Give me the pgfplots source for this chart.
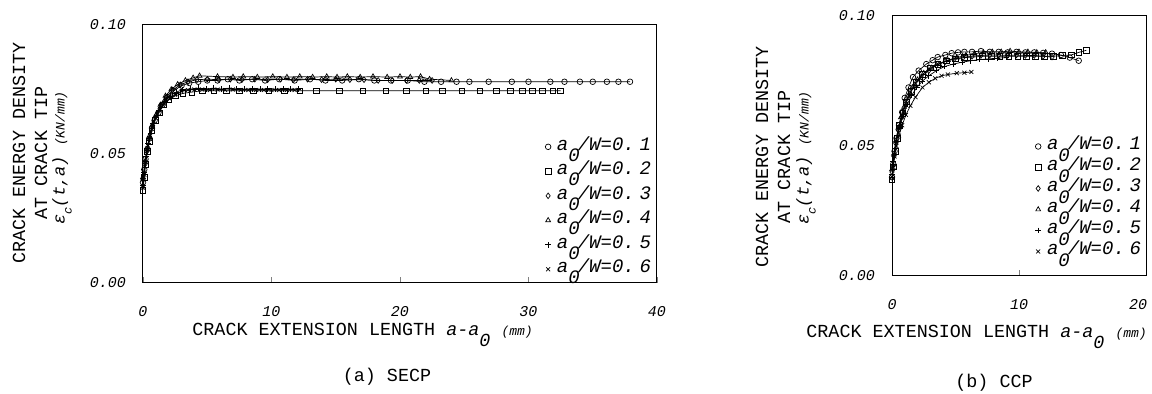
\documentclass[border=0pt]{standalone}
\usepackage{pgfplots}
\pgfplotsset{compat=1.18}
\usepackage{fontspec}
\setmainfont{Liberation Mono}
\newcommand{\lab}{\fontsize{9.2}{11}\selectfont}
\newcommand{\lgd}[1]{\hspace{2.5pt}a\raisebox{-1.1ex}{0}\kern-0.1em/W=0.\hspace{0.25em}#1}
\newcommand{\xlab}{\lab CRACK EXTENSION LENGTH \textit{a-a}\raisebox{-1.1ex}{\textit{0}}\ {\fontsize{6.5}{7}\selectfont\textit{(mm)}}}
\newcommand{\elab}{\fontsize{8.5}{10}\selectfont\itshape ε\raisebox{-0.8ex}{\fontsize{6}{6}\selectfont c}(t,a) {\fontsize{6.5}{7}\selectfont(KN/mm)}}
\pgfplotsset{
  panel/.style={
    scale only axis, anchor=south west, clip=false,
    axis line style={line width=0.5pt},
    tick align=inside, xtick pos=bottom, ytick pos=left,
    major tick length=3pt,
    y tick style={draw=none},
    ymin=0, ymax=0.1, xmin=0, ytick={0,0.05,0.1},
    scaled y ticks=false,
    y tick label style={/pgf/number format/fixed, /pgf/number format/fixed zerofill, /pgf/number format/precision=2},
    /pgf/number format/assume math mode=true,
    tick label style={font=\fontsize{7.5}{8}\selectfont\itshape},
    yticklabel style={xshift=-5pt},
    xticklabel style={yshift=-8pt},
    every axis plot/.append style={black, line width=0.35pt, mark size=1.4pt, mark options={solid, line width=0.35pt}},
    legend image code/.code={\draw[##1,only marks] plot coordinates {(0pt,0pt)};},
    legend style={draw=none, fill=none, anchor=north west, inner sep=0pt,
      font=\fontsize{9.5}{10}\selectfont\itshape,
      nodes={inner sep=0.5pt, text height=6.5pt, text depth=3pt},
      cells={anchor=west}},
  }
}
\begin{document}
\begin{tikzpicture}
\useasboundingbox (0pt,0pt) rectangle (576pt,197pt);
% ---------------- (a) SECP ----------------
\begin{axis}[panel, at={(71.5pt,55.5pt)}, width=257pt, height=129pt,
  xmax=40, xtick={0,10,20,30,40},
  legend style={at={(rel axis cs:0.782,0.57)}, row sep=1.75pt}]
\addplot[mark=o] coordinates {(0,0.039)(0.1,0.044)(0.2,0.048)(0.35,0.052)(0.5,0.056)(0.7,0.060)(0.9,0.063)(1.2,0.066)(1.5,0.069)(1.9,0.072)(2.4,0.0745)(3.0,0.0765)(3.6,0.0775)(4.3,0.078)(5.0,0.0785)(5.8,0.0785)(6.6,0.079)(7.5,0.0785)(8.5,0.079)(9.5,0.0785)(10.6,0.079)(11.8,0.0785)(13,0.079)(14.2,0.0785)(15.5,0.0785)(16.8,0.079)(18,0.0785)(19.3,0.0785)(20.6,0.0785)(21.9,0.078)(23.2,0.078)(24.4,0.078)(25.4,0.078)(26.9,0.078)(28.7,0.078)(30,0.078)(31.7,0.078)(32.8,0.078)(34,0.078)(35,0.078)(36.1,0.078)(37,0.078)(37.9,0.078)};
\addlegendentry{\lgd{1}}
\addplot[mark=square] coordinates {(0,0.036)(0.1,0.041)(0.2,0.046)(0.35,0.051)(0.5,0.055)(0.7,0.059)(0.95,0.063)(1.25,0.066)(1.6,0.069)(2.0,0.071)(2.5,0.0725)(3.1,0.0735)(3.8,0.074)(4.6,0.0745)(5.5,0.0745)(6.5,0.0745)(7.5,0.0745)(8.6,0.0745)(9.8,0.0745)(11,0.0745)(12.2,0.0745)(13.5,0.0745)(15.3,0.0745)(17.1,0.0745)(18.9,0.0745)(20.5,0.0745)(22,0.0745)(23.3,0.0745)(24.8,0.0745)(26.2,0.0745)(27.5,0.0745)(28.6,0.0745)(29.5,0.0745)(30.3,0.0745)(31.1,0.0745)(31.9,0.0745)(32.5,0.0745)};
\addlegendentry{\lgd{2}}
\addplot[mark=diamond] coordinates {(0,0.040)(0.15,0.046)(0.3,0.051)(0.5,0.056)(0.75,0.061)(1.05,0.065)(1.4,0.069)(1.8,0.072)(2.3,0.0748)(2.9,0.0768)(3.5,0.078)(4.2,0.0788)(5.0,0.079)(5.9,0.0788)(6.8,0.079)(7.7,0.0788)(8.7,0.079)(9.7,0.0788)(10.7,0.079)(11.7,0.0788)(12.8,0.079)(13.9,0.0788)(15,0.079)(16.1,0.0788)(17.2,0.0788)(18.3,0.0785)(19.4,0.0785)(20.5,0.0785)(21.5,0.0785)(22.5,0.0785)};
\addlegendentry{\lgd{3}}
\addplot[mark=triangle] coordinates {(0,0.041)(0.15,0.047)(0.3,0.052)(0.5,0.057)(0.7,0.061)(1.0,0.065)(1.35,0.069)(1.75,0.0725)(2.2,0.075)(2.7,0.077)(3.3,0.0785)(3.9,0.0795)(4.4,0.0803)(5.8,0.080)(7.0,0.0798)(7.8,0.080)(8.9,0.0798)(10.1,0.080)(11.2,0.0798)(12.2,0.080)(13.2,0.0798)(14.3,0.080)(15.1,0.0798)(15.9,0.080)(16.9,0.0798)(17.9,0.080)(19,0.0798)(20,0.080)(20.8,0.0798)(21.6,0.080)(22.3,0.079)(24,0.0785)};
\addlegendentry{\lgd{4}}
\addplot[mark=+] coordinates {(0,0.038)(0.1,0.043)(0.25,0.049)(0.4,0.054)(0.6,0.058)(0.8,0.062)(1.05,0.065)(1.35,0.068)(1.7,0.0705)(2.1,0.0725)(2.6,0.074)(3.1,0.075)(3.7,0.0752)(4.3,0.0755)(4.9,0.0752)(5.5,0.0755)(6.1,0.0752)(6.7,0.0755)(7.3,0.0752)(7.9,0.0752)(8.5,0.0752)(9.1,0.0752)(9.7,0.0752)(10.3,0.0752)(10.9,0.0752)(11.5,0.0752)(12.1,0.0752)};
\addlegendentry{\lgd{5}}
\addplot[mark=x] coordinates {(0,0.037)(0.1,0.042)(0.2,0.047)(0.35,0.052)(0.55,0.057)(0.75,0.061)(1.0,0.064)(1.3,0.067)(1.65,0.0695)(2.05,0.0715)(2.5,0.073)(3.0,0.0742)(3.5,0.0748)(4.0,0.075)(4.6,0.075)(5.2,0.0748)(5.8,0.075)(6.4,0.0748)(7.0,0.075)(7.6,0.0748)(8.2,0.0748)(8.8,0.0748)(9.4,0.0748)(10,0.0748)(10.6,0.0748)(11.2,0.0748)(11.8,0.0748)};
\addlegendentry{\lgd{6}}
\end{axis}
% ---------------- (b) CCP ----------------
\begin{axis}[panel, at={(446pt,59pt)}, width=127pt, height=130pt,
  xmax=20, xtick={0,10,20}, xticklabels={0,10,{\makebox[9pt][c]{\hspace*{-8pt}20}}},
  legend style={at={(rel axis cs:0.563,0.54)}, row sep=0pt}]
\addplot[mark=o] coordinates {(0,0.038)(0.1,0.043)(0.2,0.048)(0.35,0.053)(0.55,0.058)(0.8,0.063)(1.0,0.0685)(1.3,0.0725)(1.65,0.0765)(2.1,0.079)(2.7,0.0815)(3.2,0.083)(3.6,0.0842)(4.2,0.085)(4.7,0.0857)(5.2,0.086)(5.7,0.0862)(6.3,0.0862)(7.0,0.0865)(7.7,0.0862)(8.4,0.0862)(9.1,0.086)(9.8,0.0862)(10.5,0.086)(11.2,0.086)(11.9,0.0858)(12.6,0.0855)(13.3,0.085)(14.0,0.084)(14.7,0.0828)};
\addlegendentry{\lgd{1}}
\addplot[mark=square] coordinates {(0,0.037)(0.1,0.042)(0.25,0.048)(0.4,0.053)(0.6,0.058)(0.85,0.0625)(1.15,0.067)(1.5,0.071)(1.9,0.0745)(2.4,0.0775)(3.0,0.080)(3.6,0.0815)(4.3,0.0828)(5.0,0.0835)(5.7,0.084)(6.4,0.0842)(7.1,0.0845)(7.8,0.0845)(8.5,0.0845)(9.2,0.0845)(9.9,0.0845)(10.6,0.0845)(11.3,0.0845)(12,0.0845)(12.7,0.0845)(13.4,0.0848)(14.1,0.085)(14.7,0.086)(15.3,0.0868)};
\addlegendentry{\lgd{2}}
\addplot[mark=diamond] coordinates {(0,0.040)(0.15,0.046)(0.3,0.051)(0.5,0.056)(0.75,0.061)(1.05,0.066)(1.4,0.070)(1.8,0.0735)(2.3,0.0765)(2.9,0.079)(3.5,0.081)(4.2,0.0825)(4.9,0.0835)(5.6,0.084)(6.3,0.0845)(7.0,0.0848)(7.7,0.085)(8.4,0.085)(9.1,0.0848)(9.8,0.085)(10.5,0.0848)(11.2,0.0848)(11.9,0.0845)(12.6,0.0842)};
\addlegendentry{\lgd{3}}
\addplot[mark=triangle] coordinates {(0,0.041)(0.15,0.047)(0.3,0.052)(0.5,0.057)(0.7,0.061)(0.95,0.065)(1.25,0.069)(1.6,0.0725)(2.0,0.0755)(2.5,0.078)(3.1,0.080)(3.7,0.0815)(4.4,0.083)(5.1,0.084)(5.8,0.0848)(6.5,0.0855)(7.2,0.086)(7.9,0.0862)(8.6,0.0862)(9.3,0.0865)(10.0,0.0862)(10.7,0.0862)(11.4,0.086)(12.1,0.086)};
\addlegendentry{\lgd{4}}
\addplot[mark=+] coordinates {(0,0.039)(0.1,0.044)(0.25,0.049)(0.45,0.054)(0.65,0.058)(0.9,0.062)(1.2,0.066)(1.55,0.0695)(1.95,0.0725)(2.4,0.075)(2.9,0.077)(3.5,0.079)(4.1,0.0805)(4.8,0.0815)(5.5,0.0822)(6.2,0.0828)(6.9,0.0832)(7.6,0.0835)(8.3,0.0838)(9.0,0.084)};
\addlegendentry{\lgd{5}}
\addplot[mark=x] coordinates {(0,0.038)(0.1,0.042)(0.2,0.046)(0.35,0.050)(0.55,0.054)(0.8,0.058)(1.1,0.062)(1.45,0.0655)(1.85,0.0688)(2.4,0.0725)(2.9,0.0745)(3.4,0.076)(3.9,0.077)(4.4,0.0775)(5.1,0.078)(5.7,0.0782)(6.25,0.0785)};
\addlegendentry{\lgd{6}}
\end{axis}
% ---------------- labels ----------------
\node[rotate=90, inner sep=0pt] at (9.5pt,120.5pt) {\lab CRACK ENERGY DENSITY};
\node[rotate=90, inner sep=0pt] at (20.5pt,120.5pt) {\lab AT CRACK TIP};
\node[rotate=90, inner sep=0pt] at (31pt,118pt) {\elab};
\node[anchor=west, inner sep=0pt] at (96pt,29.5pt) {\xlab};
\node[inner sep=0pt] at (193.5pt,8.5pt) {\lab (a) SECP};
\node[rotate=90, inner sep=0pt] at (381pt,118.5pt) {\lab CRACK ENERGY DENSITY};
\node[rotate=90, inner sep=0pt] at (392pt,118.5pt) {\lab AT CRACK TIP};
\node[rotate=90, inner sep=0pt] at (403pt,118pt) {\elab};
\node[anchor=west, inner sep=0pt] at (403pt,28.5pt) {\xlab};
\node[inner sep=0pt] at (497pt,5.5pt) {\lab (b) CCP};
\end{tikzpicture}
\end{document}
